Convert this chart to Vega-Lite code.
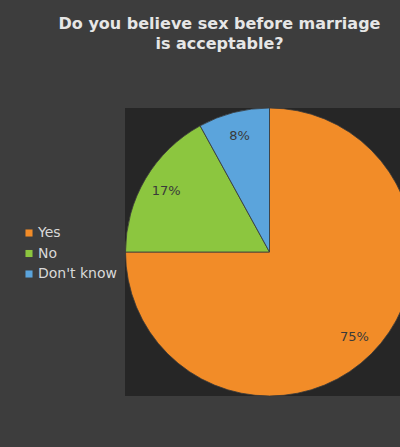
{
  "$schema": "https://vega.github.io/schema/vega-lite/v6.json",
  "width": 261,
  "height": 260,
  "autosize": {"type": "none"},
  "padding": {"left": 139, "top": 122, "right": 0, "bottom": 65},
  "background": "#3d3d3d",
  "view": {"fill": "#262626", "stroke": "#262626", "strokeWidth": 28},
  "config": {
    "font": "DejaVu Sans"
  },
  "title": {
    "text": ["Do you believe sex before marriage", "is acceptable?"],
    "fontSize": 16,
    "fontWeight": "bold",
    "color": "#e6e6e6",
    "anchor": "middle",
    "frame": "group",
    "dx": -50,
    "offset": 54,
    "lineHeight": 20
  },
  "data": {
    "values": [
      {"category": "Yes", "value": 0.75},
      {"category": "No", "value": 0.17},
      {"category": "Don't know", "value": 0.08}
    ]
  },
  "encoding": {
    "theta": {"field": "value", "type": "quantitative", "stack": true},
    "order": {"field": "value", "sort": "descending"}
  },
  "layer": [
    {
      "mark": {"type": "arc", "outerRadius": 144, "stroke": "#3a3a3a", "strokeWidth": 0.8},
      "encoding": {
        "color": {
          "field": "category",
          "type": "nominal",
          "scale": {"domain": ["Yes", "No", "Don't know"], "range": ["#F28C28", "#8CC63F", "#5BA4DC"]},
          "legend": {
            "title": null,
            "orient": "none",
            "legendX": -117,
            "legendY": 104,
            "symbolType": "square",
            "symbolSize": 50,
            "symbolStrokeWidth": 0,
            "labelFontSize": 14,
            "labelColor": "#d9d9d9",
            "labelFont": "DejaVu Sans",
            "labelOffset": 2,
            "rowPadding": 6.5
          }
        }
      }
    },
    {
      "mark": {"type": "text", "radius": 120, "fontSize": 13, "color": "#3a3a3a"},
      "encoding": {
        "text": {"field": "value", "type": "quantitative", "format": ".0%"}
      }
    }
  ]
}
